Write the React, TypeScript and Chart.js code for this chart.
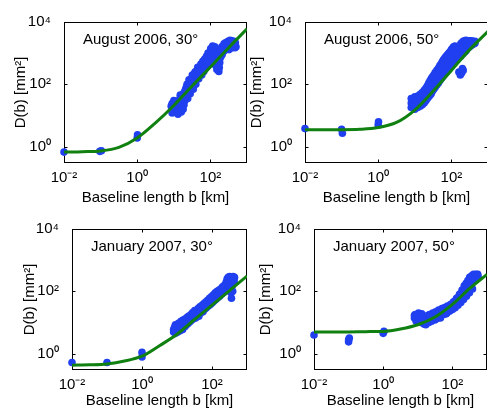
import React, { useEffect, useRef } from 'react';
import { Chart, registerables } from 'chart.js';

Chart.register(...registerables);

// ---------- data ----------
const curveB = [0.01, 0.0316, 0.1, 0.316, 1, 3.16, 10, 31.6, 100, 316, 1000];
const curveAug30 = [0.67, 0.69, 0.73, 0.95, 1.9, 5.8, 21, 88, 360, 1500, 6000];
const curveAug50 = [3.5, 3.5, 3.5, 3.6, 4.1, 6, 15, 60, 280, 1300, 5000];
const curveJan30 = [0.43, 0.44, 0.47, 0.58, 0.83, 1.8, 4.2, 12.5, 36, 105, 310];
const curveJan50 = [5.0, 5.0, 5.0, 5.1, 5.2, 6.2, 8.5, 15, 38, 124, 350];

const pointsAug30: [number, number][] = [
  [0.01, 0.67], [0.095, 0.71], [0.105, 0.74], [1, 1.9], [1.02, 2.4],
  [8.5, 20], [9, 24], [9.5, 17], [10, 22], [10, 15], [11, 26], [11, 14], [12, 18], [12.5, 13], [13, 22],
  [14, 16], [14, 32], [15, 14], [16, 20], [16, 40], [17, 28], [18, 50], [18, 16], [19, 35], [20, 60],
  [21, 45], [22, 80], [23, 55], [24, 100], [25, 70], [27, 120], [28, 90], [30, 150], [31, 110], [33, 180],
  [35, 130], [37, 220], [39, 170], [41, 260], [44, 200], [47, 300], [50, 240], [53, 350], [56, 280], [60, 420],
  [63, 320], [67, 500], [70, 380], [75, 600], [80, 450], [85, 700], [90, 550], [95, 900], [100, 1100], [105, 750],
  [110, 1300], [118, 1000], [125, 1500], [130, 800], [135, 1200], [140, 400], [150, 300], [160, 350], [170, 260],
  [180, 500], [190, 1000], [200, 1300], [210, 900], [225, 1600], [240, 1200], [255, 1800], [270, 1400], [290, 2000],
  [310, 1600], [330, 2200], [350, 1800], [370, 2400], [390, 1500], [420, 2000], [450, 1700], [480, 2200], [500, 1600],
  [9, 12], [10, 30], [11, 19], [12, 28], [13, 11], [14, 22], [15, 45], [16, 13], [17, 18], [18, 25], [19, 22],
  [20, 30], [21, 70], [22, 40], [23, 100], [24, 35], [26, 60], [26, 140], [28, 50], [30, 80], [32, 200], [34, 70],
  [36, 110], [38, 250], [40, 100], [42, 160], [45, 350], [48, 150], [52, 220], [55, 450], [58, 200], [62, 550],
  [66, 260], [70, 650], [74, 330], [78, 800], [82, 380], [86, 1000], [92, 450], [98, 700], [102, 1400], [108, 500],
  [115, 1700], [122, 700], [128, 1100], [132, 1600], [142, 900], [148, 1300], [155, 600], [165, 450], [175, 350],
  [185, 700], [195, 800], [205, 1600], [220, 1100], [235, 2000], [250, 1300], [265, 2200], [285, 1600], [305, 2400],
  [325, 1300], [345, 2600], [365, 2000], [385, 2500], [410, 1800], [440, 2400], [470, 1500],
];

const pointsAug50: [number, number][] = [
  [0.01, 3.8], [0.1, 3.6], [0.105, 2.7], [1, 5.0], [1.02, 6.3],
  [8, 18], [8, 25], [8, 35], [9, 20], [9, 30], [10, 16], [10, 24], [10, 40], [11, 20], [11, 32],
  [12, 18], [12, 28], [12, 42], [13, 22], [13, 35], [14, 20], [14, 30], [14, 48], [15, 25], [15, 40],
  [16, 22], [16, 32], [16, 55], [17, 28], [17, 45], [18, 25], [18, 38], [18, 65], [19, 32], [19, 50],
  [20, 30], [20, 45], [20, 75], [22, 35], [22, 55], [22, 90], [24, 40], [24, 65], [24, 110],
  [26, 45], [26, 75], [26, 130], [28, 50], [28, 90], [28, 150], [30, 60], [30, 100], [30, 170],
  [33, 70], [33, 120], [33, 200], [36, 80], [36, 140], [36, 240], [40, 95], [40, 170], [40, 280],
  [44, 110], [44, 200], [44, 330], [48, 130], [48, 230], [48, 390], [52, 150], [52, 270], [52, 450],
  [56, 170], [56, 310], [56, 520], [60, 190], [60, 350], [60, 600], [65, 210], [65, 400], [65, 680],
  [70, 240], [70, 450], [70, 760], [76, 270], [76, 500], [76, 850], [82, 300], [82, 560], [82, 950],
  [88, 330], [88, 620], [88, 1050], [95, 370], [95, 700], [95, 1150], [100, 400], [100, 800], [100, 1300],
  [108, 450], [108, 900], [108, 1450], [115, 500], [115, 1000], [115, 1600], [125, 550], [125, 1100],
  [125, 1700], [135, 600], [135, 1200], [135, 1500], [145, 700], [145, 1300],
  [160, 250], [175, 200], [190, 230], [210, 280], [200, 320],
  [180, 800], [180, 1500], [180, 2000], [195, 900], [195, 1600], [195, 2200], [210, 1000], [210, 1800],
  [210, 2400], [230, 1100], [230, 1900], [230, 2500], [250, 1200], [250, 2000], [250, 2600],
  [270, 1400], [270, 2200], [290, 1500], [290, 2400], [310, 1600], [310, 2500], [330, 1700], [330, 2300],
  [350, 1800], [350, 2500], [380, 1900], [380, 2400], [410, 2000], [410, 2300], [440, 2100], [440, 2400],
];

const pointsJan30: [number, number][] = [
  [0.01, 0.52], [0.1, 0.52], [1, 0.78], [1, 1.1],
  [8, 5], [8.5, 7], [9, 4.5], [9.5, 6], [10, 8], [10.5, 5], [11, 6.5], [12, 9], [12.5, 5.5], [13, 7],
  [14, 10], [14.5, 6], [15, 8], [16, 12], [17, 7.5], [18, 10], [19, 14], [20, 9], [21, 12], [22, 16],
  [24, 11], [25, 14], [27, 18], [29, 13], [31, 17], [33, 21], [35, 15], [38, 24], [40, 18], [43, 26],
  [46, 20], [50, 30], [53, 23], [56, 33], [60, 26], [64, 38], [68, 29], [72, 42], [77, 33], [82, 48],
  [88, 37], [94, 55], [100, 42], [106, 62], [112, 48], [120, 70], [128, 55], [135, 80], [145, 62], [155, 90],
  [165, 70], [175, 100], [185, 80], [195, 115], [210, 90], [225, 130], [240, 100], [255, 200], [270, 250],
  [280, 150], [290, 280], [300, 220], [310, 120], [320, 300], [330, 180], [340, 260], [350, 90], [360, 60],
  [370, 250], [380, 200], [400, 300], [420, 240], [440, 280],
  [8, 6], [9, 8.5], [10, 5.5], [11, 9.5], [12, 6.5], [13, 11], [14, 7.5], [15, 12], [16, 8], [17, 13], [18, 8.5],
  [20, 15], [22, 10], [23, 13], [25, 18], [26, 12], [28, 21], [30, 15], [32, 24], [34, 14], [36, 20], [40, 28],
  [42, 16], [45, 32], [48, 24], [52, 36], [55, 22], [58, 40], [62, 30], [66, 45], [70, 34], [75, 52], [80, 36],
  [85, 60], [90, 45], [97, 68], [103, 50], [110, 78], [116, 58], [124, 90], [130, 65], [140, 100], [150, 75],
  [160, 110], [170, 85], [180, 120], [190, 95], [200, 140], [215, 110], [230, 160], [250, 120], [265, 180],
  [290, 160], [305, 250], [330, 220], [355, 280], [375, 150], [390, 100], [410, 250], [430, 200],
];

const pointsJan50: [number, number][] = [
  [0.01, 4.0], [0.1, 2.4], [0.1, 2.8], [0.105, 3.2], [1, 4.5], [1.05, 5.2],
  [8, 14], [8.5, 18], [9, 11], [9.5, 16], [10, 13], [10.5, 20], [11, 12], [12, 17], [12.5, 10], [13, 15],
  [14, 12], [15, 9], [16, 14], [17, 8.5], [18, 11], [19, 16], [20, 13], [21, 10], [22, 18], [24, 14],
  [25, 11], [27, 20], [29, 15], [31, 12], [33, 22], [35, 17], [38, 14], [40, 25], [43, 19], [46, 16],
  [50, 28], [53, 21], [56, 18], [60, 30], [64, 24], [68, 20], [72, 34], [77, 27], [82, 23], [88, 38],
  [94, 30], [100, 26], [106, 45], [112, 35], [120, 30], [128, 55], [135, 42], [145, 36], [155, 70],
  [165, 52], [175, 44], [185, 90], [195, 65], [210, 55], [225, 120], [240, 85], [255, 70], [270, 160],
  [285, 110], [300, 200], [310, 90], [320, 250], [335, 150], [350, 300], [365, 200], [380, 120], [400, 280],
  [420, 220], [440, 330], [460, 250], [500, 300], [540, 350],
  [8, 17], [9, 14], [10, 17], [11, 15], [12, 13], [13, 19], [14, 16], [15, 13], [16, 11], [17, 15], [18, 13],
  [19, 10], [20, 17], [22, 12], [23, 16], [25, 15], [26, 13], [28, 18], [30, 14], [32, 17], [34, 13], [36, 20],
  [39, 17], [42, 22], [45, 14], [48, 24], [52, 18], [55, 26], [58, 22], [62, 28], [66, 19], [70, 30], [75, 24],
  [80, 32], [85, 26], [90, 35], [96, 28], [102, 40], [110, 30], [118, 48], [125, 38], [132, 60], [140, 45],
  [150, 55], [160, 80], [170, 60], [180, 70], [190, 110], [200, 80], [220, 150], [235, 100], [250, 180],
  [265, 130], [280, 220], [295, 150], [315, 280], [330, 180], [345, 250], [370, 320], [390, 230], [410, 350],
  [430, 280], [450, 300], [480, 350], [520, 320], [550, 300],
];

const xTickValues = [0.01, 1, 100];
const xTickLabels = ['10\u207B\u00B2', '10\u2070', '10\u00B2'];
const yTickValues = [1, 100, 10000];
const yTickLabels = ['10\u2070', '10\u00B2', '10\u2074'];

const titles = ['August 2006, 30\u00B0', 'August 2006, 50\u00B0', 'January 2007, 30\u00B0', 'January 2007, 50\u00B0'];
const xAxisTitle = 'Baseline length b [km]';
const yAxisTitle = 'D(b) [mm\u00B2]';

const FONT = "'Liberation Sans', Arial, Helvetica, sans-serif";
const BLUE = '#2040f0';
const GREEN = '#108010';

type PanelCfg = {
  left: number; top: number; w: number; h: number;
  yAxisW: number; xAxisH: number; padTop: number; padRight: number;
  yTitlePad: number; curve: number[]; points: [number, number][]; title: string;
};

const panels: PanelCfg[] = [
  { left: 0, top: 0, w: 260, h: 210, yAxisW: 64, xAxisH: 47, padTop: 15, padRight: 13, yTitlePad: 12, curve: curveAug30, points: pointsAug30, title: titles[0] },
  { left: 245, top: 0, w: 260, h: 210, yAxisW: 60, xAxisH: 47, padTop: 15, padRight: 17, yTitlePad: 3, curve: curveAug50, points: pointsAug50, title: titles[1] },
  { left: 0, top: 207, w: 260, h: 206, yAxisW: 72, xAxisH: 43, padTop: 15, padRight: 13, yTitlePad: 21, curve: curveJan30, points: pointsJan30, title: titles[2] },
  { left: 245, top: 207, w: 260, h: 206, yAxisW: 69, xAxisH: 43, padTop: 15, padRight: 18, yTitlePad: 12, curve: curveJan50, points: pointsJan50, title: titles[3] },
];

const framePlugin = {
  id: 'frame',
  beforeDatasetsDraw(chart: any, _args: any, opts: any) {
    const { ctx, chartArea: a, scales } = chart;
    ctx.save();
    ctx.strokeStyle = '#000';
    ctx.lineWidth = 1;
    const L = Math.round(a.left) + 0.5;
    const R = Math.round(a.right) - 0.5;
    const T = Math.round(a.top) + 0.5;
    const B = Math.round(a.bottom) - 0.5;
    ctx.strokeRect(L, T, R - L, B - T);
    ctx.beginPath();
    for (const v of xTickValues) {
      const px = Math.round(scales.x.getPixelForValue(v)) + 0.5;
      ctx.moveTo(px, B); ctx.lineTo(px, B - 3);
      ctx.moveTo(px, T); ctx.lineTo(px, T + 3);
    }
    for (const v of yTickValues) {
      const py = Math.round(scales.y.getPixelForValue(v)) + 0.5;
      ctx.moveTo(L, py); ctx.lineTo(L + 3, py);
      ctx.moveTo(R, py); ctx.lineTo(R - 3, py);
    }
    ctx.stroke();
    ctx.fillStyle = '#000';
    ctx.font = `15px ${FONT}`;
    ctx.textBaseline = 'middle';
    ctx.textAlign = 'left';
    ctx.fillText(opts.title, a.left + 19, a.top + 18);
    ctx.restore();
  },
};

function Panel({ cfg }: { cfg: PanelCfg }) {
  const ref = useRef<HTMLCanvasElement>(null);
  useEffect(() => {
    if (!ref.current) return;
    const font = { family: FONT, size: 15 };
    const chart = new Chart(ref.current, {
      type: 'scatter',
      data: {
        datasets: [
          {
            type: 'line',
            data: curveB.map((b, i) => ({ x: b, y: cfg.curve[i] })),
            borderColor: GREEN,
            borderWidth: 3,
            pointRadius: 0,
            cubicInterpolationMode: 'monotone',
            fill: false,
          } as any,
          {
            type: 'scatter',
            data: cfg.points.map(([x, y]) => ({ x, y })),
            backgroundColor: BLUE,
            borderWidth: 0,
            pointRadius: 3.8,
            clip: false,
          } as any,
        ],
      },
      options: {
        animation: false,
        responsive: false,
        devicePixelRatio: 1,
        events: [],
        layout: { padding: { left: 0, top: cfg.padTop, right: cfg.padRight, bottom: 0 } },
        plugins: {
          legend: { display: false },
          tooltip: { enabled: false },
          frame: { title: cfg.title },
        } as any,
        scales: {
          x: {
            type: 'logarithmic',
            position: 'bottom',
            min: 0.01,
            max: 1000,
            grid: { display: false, drawTicks: false },
            border: { display: false },
            afterBuildTicks: (s: any) => { s.ticks = xTickValues.map((v) => ({ value: v })); },
            afterFit: (s: any) => { s.height = cfg.xAxisH; },
            ticks: {
              callback: (_v: any, i: number) => xTickLabels[i],
              padding: 6,
              color: '#000',
              font,
              maxRotation: 0,
              autoSkip: false,
            },
            title: { display: true, text: xAxisTitle, color: '#000', font, padding: { top: 0, bottom: 3 } },
          },
          y: {
            type: 'logarithmic',
            position: 'left',
            min: 0.316,
            max: 10000,
            grid: { display: false, drawTicks: false },
            border: { display: false },
            afterBuildTicks: (s: any) => { s.ticks = yTickValues.map((v) => ({ value: v })); },
            afterFit: (s: any) => { s.width = cfg.yAxisW; },
            ticks: {
              callback: (_v: any, i: number) => yTickLabels[i],
              padding: 13,
              color: '#000',
              font,
              autoSkip: false,
            },
            title: { display: true, text: yAxisTitle, color: '#000', font, padding: { top: cfg.yTitlePad, bottom: 0 } },
          },
        } as any,
      },
      plugins: [framePlugin],
    } as any);
    return () => chart.destroy();
  }, [cfg]);
  return (
    <canvas
      ref={ref}
      width={cfg.w}
      height={cfg.h}
      style={{ position: 'absolute', left: cfg.left, top: cfg.top, width: cfg.w, height: cfg.h }}
    />
  );
}

export default function App() {
  return (
    <div style={{ position: 'absolute', left: 0, top: 0, width: 487, height: 413, overflow: 'hidden', background: '#fff' }}>
      {panels.map((p, i) => (
        <Panel key={i} cfg={p} />
      ))}
    </div>
  );
}
